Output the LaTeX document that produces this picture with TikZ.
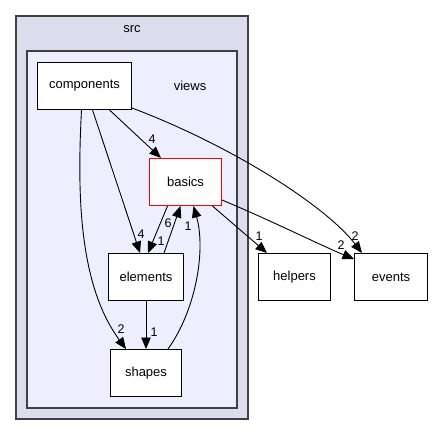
\documentclass[tikz,border=0pt]{standalone}
\usepackage{fontspec}
\setmainfont{Liberation Sans}
\usetikzlibrary{arrows.meta,calc}
\definecolor{outerfill}{HTML}{DDDDEE}
\definecolor{innerfill}{HTML}{EEEEFF}
\definecolor{clborder}{HTML}{404040}
\begin{document}
\begin{tikzpicture}[x=1pt,y=-1pt,
  dirbox/.style={fill=white,line width=1pt,minimum height=47pt,inner sep=0pt,font=\fontsize{13}{15}\selectfont},
  cluster/.style={draw=clborder,line width=1.4pt},
  dep/.style={draw=black,line width=0.9pt,-{Triangle[length=11.5pt,width=9.5pt]}},
  lbl/.style={font=\fontsize{12.5}{14}\selectfont,inner sep=0pt}]
\useasboundingbox (0,0) rectangle (432,435);
% clusters
\draw[cluster,fill=outerfill] (16,16) rectangle (248,419);
\draw[cluster,fill=innerfill] (27,51) rectangle (237,408);
\node[font=\fontsize{13}{15}\selectfont] (srct) at (132,29) {src};
\node[font=\fontsize{13}{15}\selectfont] (viewst) at (190,86) {views};
% nodes
\node[dirbox,draw=black,minimum width=94pt] (components) at (84.5,86) {components};
\node[dirbox,draw=red,line width=1.1pt,minimum width=72pt] (basics) at (185.5,182) {basics};
\node[dirbox,draw=black,minimum width=75pt] (elements) at (146,277) {elements};
\node[dirbox,draw=black,minimum width=71pt] (shapes) at (146,373) {shapes};
\node[dirbox,draw=black,minimum width=72pt] (helpers) at (294.5,277) {helpers};
\node[dirbox,draw=black,minimum width=73pt] (events) at (391,277) {events};
% edges
\draw[dep] ($(components.south)+(25,0)$) -- ($(basics.north west)+(12,0)$);
\draw[dep] ($(components.south)+(8,0)$) -- ($(elements.north)+(-6,0)$);
\draw[dep] ($(components.south)+(-3,0)$) .. controls (77,195) and (79,285) .. ($(shapes.north)+(-20,0)$);
\draw[dep] ($(components.south east)+(0,-2)$) .. controls (230,145) and (325,205) .. ($(events.north west)+(8,0)$);
\draw[dep] ($(basics.south)+(-18,0)$) -- ($(elements.north)+(2,0)$);
\draw[dep] ($(elements.north)+(18,0)$) -- ($(basics.south)+(-5,0)$);
\draw[dep] (elements.south) -- (shapes.north);
\draw[dep] ($(shapes.north)+(22,0)$) .. controls (196,310) and (206,250) .. ($(basics.south)+(8,0)$);
\draw[dep] ($(basics.south)+(27,0)$) -- ($(helpers.north west)+(9,0)$);
\draw[dep] ($(basics.south east)+(0,-6)$) .. controls (270,220) and (320,245) .. ($(events.north west)+(0,6)$);
% labels
\node[lbl] (l1) at (152,139) {4};
\node[lbl] (l2) at (141,234) {4};
\node[lbl] (l3) at (121,329) {2};
\node[lbl] (l4) at (355,236) {2};
\node[lbl] (l5) at (161,241) {1};
\node[lbl] (l6) at (168,223) {6};
\node[lbl] (l7) at (154,332) {1};
\node[lbl] (l8) at (188,226) {1};
\node[lbl] (l9) at (259,236) {1};
\node[lbl] (l10) at (341,245) {2};
\end{tikzpicture}
\end{document}
